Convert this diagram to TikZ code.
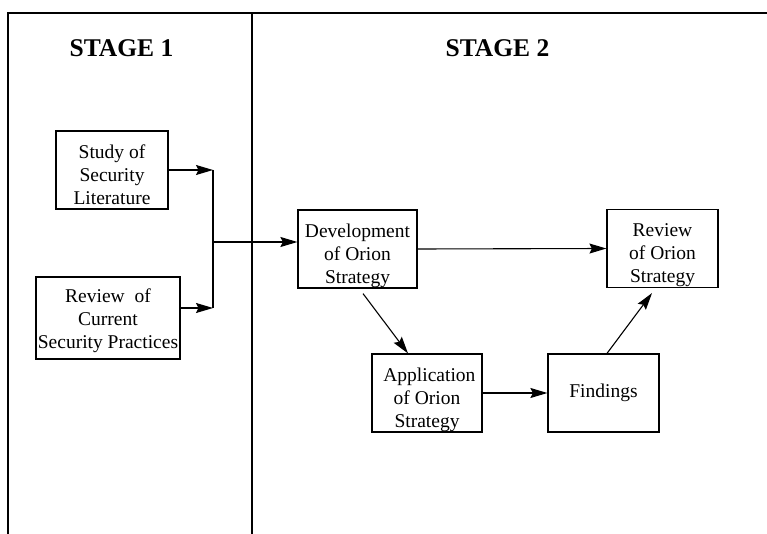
\documentclass[tikz,border=0pt]{standalone}
\usepackage{fontspec}
\setmainfont{Liberation Serif}
\usetikzlibrary{arrows.meta,calc}
% invisible strut that lowers the lines of a box a little
\newcommand\padtop[1]{\rule{0pt}{#1pt}}
\begin{document}
\begin{tikzpicture}[x=1pt,y=-1pt,
  box/.style={draw,line width=1.2pt,align=center,inner sep=0pt,
    font=\fontsize{19.5}{23}\selectfont},
  stagelabel/.style={anchor=base,inner sep=0pt,
    font=\fontsize{25.5}{30}\selectfont\bfseries},
  frame/.style={line width=1.4pt},
  link/.style={line width=1.1pt},
  arrow/.style={link,-{Stealth[length=17pt,width=10pt,inset=2.5pt]}}]
  \useasboundingbox (0,0) rectangle (767,534);

  % stage frame
  \draw[frame] (8,534) -- (8,13) -- (767,13);
  \draw[frame] (252,13) -- (252,534);

  \node[stagelabel] (s1) at (121.5,57) {STAGE 1};
  \node[stagelabel] (s2) at (497.5,57) {STAGE 2};

  % stage 1 boxes
  \node[box,minimum width=112pt,minimum height=78pt] (study) at (112,170)
    {\padtop{23.5}Study of\\Security\\Literature};
  \node[box,minimum width=144pt,minimum height=82pt] (current) at (108,318)
    {\padtop{19.5}Review\ \ of\\Current\\Security Practices};

  % stage 2 boxes
  \node[box,minimum width=119pt,minimum height=78pt] (dev) at (357.5,249)
    {\padtop{26.5}Development\\of Orion\\Strategy};
  \node[box,minimum width=111pt,minimum height=78pt] (rev) at (662.5,248.5)
    {\padtop{27}Review\\of Orion\\Strategy};
  \node[box,minimum width=110pt,minimum height=78pt] (app) at (427,393)
    {\padtop{26.5}\ Application\\of Orion\\Strategy};
  \node[box,minimum width=111pt,minimum height=78pt] (find) at (603.5,393)
    {Findings};

  % merge of the two stage 1 results
  \coordinate (j1) at (213,170);
  \coordinate (j2) at (213,308);
  \coordinate (jm) at (213,242);
  \draw[arrow] (study.east) -- (j1);
  \draw[arrow] (current.east |- j2) -- (j2);
  \draw[link] (j1) -- (j2);
  \draw[arrow] (jm) -- (dev.west |- jm);

  % stage 2 flow
  \draw[arrow] (dev.east) -- (rev.west);
  \draw[arrow] ($(dev.south)+(5.5,5)$) -- ($(app.north)+(-19,0)$);
  \draw[arrow] (app.east) -- (find.west);
  \draw[arrow] ($(find.north)+(3.5,0)$) -- ($(rev.south)+(-10.5,5)$);
\end{tikzpicture}
\end{document}
